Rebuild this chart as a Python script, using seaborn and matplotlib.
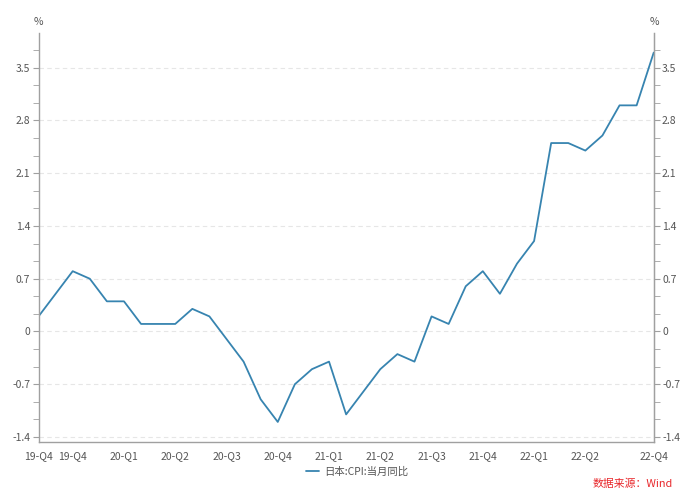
import numpy as np
import pandas as pd
import matplotlib
matplotlib.use("Agg")
import matplotlib.pyplot as plt
import seaborn as sns
from matplotlib.ticker import MultipleLocator

months = ["2019-10", "2019-11", "2019-12",
          "2020-01", "2020-02", "2020-03", "2020-04", "2020-05", "2020-06",
          "2020-07", "2020-08", "2020-09", "2020-10", "2020-11", "2020-12",
          "2021-01", "2021-02", "2021-03", "2021-04", "2021-05", "2021-06",
          "2021-07", "2021-08", "2021-09", "2021-10", "2021-11", "2021-12",
          "2022-01", "2022-02", "2022-03", "2022-04", "2022-05", "2022-06",
          "2022-07", "2022-08", "2022-09", "2022-10"]
cpi_yoy = [0.2, 0.5, 0.8,
           0.7, 0.4, 0.4, 0.1, 0.1, 0.1,
           0.3, 0.2, -0.1, -0.4, -0.9, -1.2,
           -0.7, -0.5, -0.4, -1.1, -0.8, -0.5,
           -0.3, -0.4, 0.2, 0.1, 0.6, 0.8,
           0.5, 0.9, 1.2, 2.5, 2.5, 2.4,
           2.6, 3.0, 3.0, 3.7]
xtick_labels = {0: "19-Q4", 2: "19-Q4", 5: "20-Q1", 8: "20-Q2", 11: "20-Q3",
                14: "20-Q4", 17: "21-Q1", 20: "21-Q2", 23: "21-Q3",
                26: "21-Q4", 29: "22-Q1", 32: "22-Q2", 36: "22-Q4"}
yticks = [-1.4, -0.7, 0, 0.7, 1.4, 2.1, 2.8, 3.5]
ytick_labels = ["-1.4", "-0.7", "0", "0.7", "1.4", "2.1", "2.8", "3.5"]
series_name = "日本:CPI:当月同比"
source_text = "数据来源：Wind"

sns.set_style("white")
plt.rcParams["font.family"] = ["Noto Sans CJK SC", "DejaVu Sans"]

df = pd.DataFrame({"idx": np.arange(len(months)), "value": cpi_yoy})

fig = plt.figure(figsize=(6.93, 4.97), dpi=100)
ax = fig.add_axes([0.0556, 0.1113, 0.8877, 0.8223])

line_color = "#3784b0"
sns.lineplot(data=df, x="idx", y="value", ax=ax, color=line_color, linewidth=1.3,
             label=series_name, legend=False)

ax.set_xlim(0, len(months) - 1)
ax.set_ylim(-1.462, 3.96)

tick_col = "#555555"
spine_col = "#a0a0a0"

ax.set_yticks(yticks)
ax.set_yticklabels(ytick_labels)
ax.yaxis.set_minor_locator(MultipleLocator(0.7 / 3))
ax.grid(axis="y", which="major", color="#e6e6e6", linestyle=(0, (4, 3)), linewidth=0.8)
ax.grid(axis="x", visible=False)

ax.set_xticks(list(range(len(months))))
ax.set_xticklabels([xtick_labels.get(i, "") for i in range(len(months))])

ax.spines["top"].set_visible(False)
for s in ["left", "right", "bottom"]:
    ax.spines[s].set_color(spine_col)
    ax.spines[s].set_linewidth(1.0)

ax.tick_params(axis="x", which="major", length=4, color=spine_col, labelsize=7.5,
               labelcolor=tick_col, pad=3)
ax.tick_params(axis="y", which="major", length=4, color=spine_col, labelsize=7.5,
               labelcolor=tick_col, pad=2, left=True)
ax.tick_params(axis="y", which="minor", length=4, color=spine_col, left=True)
ax.set_xlabel("")
ax.set_ylabel("")

ax2 = ax.twinx()
ax2.set_ylim(ax.get_ylim())
ax2.set_yticks(yticks)
ax2.set_yticklabels(ytick_labels)
ax2.yaxis.set_minor_locator(MultipleLocator(0.7 / 3))
ax2.tick_params(axis="y", which="major", length=4, color=spine_col, labelsize=7.5,
                labelcolor=tick_col, pad=2, right=True)
ax2.tick_params(axis="y", which="minor", length=4, color=spine_col, right=True)
for s in ["top", "left", "bottom"]:
    ax2.spines[s].set_visible(False)
ax2.spines["right"].set_color(spine_col)
ax2.grid(False)

fig.text(38.5 / 693, 1 - 22 / 497, "%", ha="center", va="center", fontsize=7.5, color=tick_col)
fig.text(654 / 693, 1 - 22 / 497, "%", ha="center", va="center", fontsize=7.5, color=tick_col)

handles, labels = ax.get_legend_handles_labels()
fig.legend(handles, labels, loc="center", bbox_to_anchor=(357 / 693, 1 - 472 / 497),
           frameon=False, fontsize=7.5, handlelength=1.3, handletextpad=0.5,
           labelcolor=tick_col)

fig.text(673 / 693, 1 - 484 / 497, source_text, ha="right", va="center",
         fontsize=7.8, color="#e8262a")

fig.savefig("out.png", dpi=100)
